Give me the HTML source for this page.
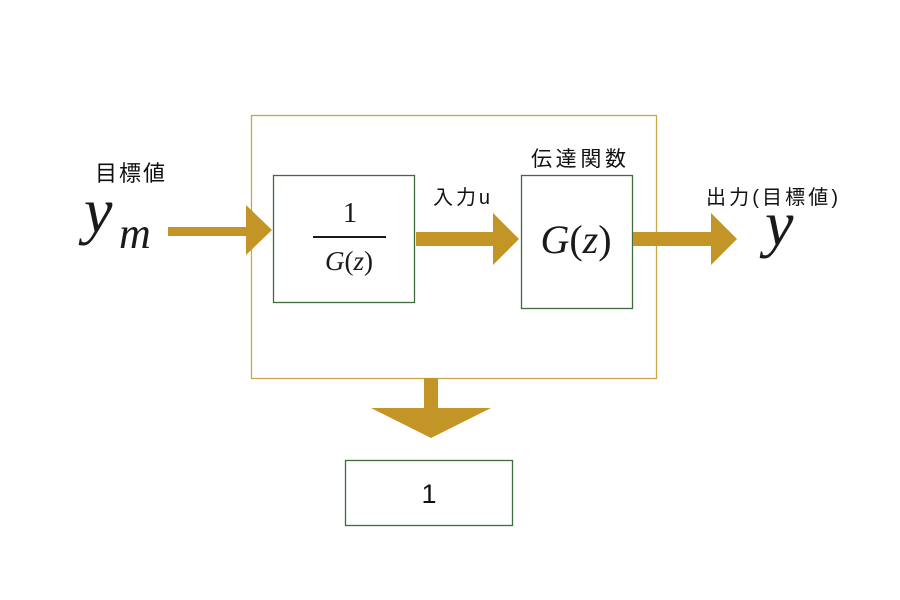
<!DOCTYPE html>
<html><head><meta charset="utf-8"><style>
html,body{margin:0;padding:0;background:#fff;}
svg{display:block;}
.jp{font-family:"Liberation Sans","Noto Sans CJK JP",sans-serif;fill:#111;}
.m{font-family:"Liberation Serif",serif;fill:#1a1a1a;}
</style></head><body>
<svg width="900" height="600" viewBox="0 0 900 600" xmlns="http://www.w3.org/2000/svg">
<rect x="0" y="0" width="900" height="600" fill="#fff"/>
<rect x="251.5" y="115.5" width="405" height="263" fill="none" stroke="#c9a646" stroke-width="1.3"/>
<rect x="273.5" y="175.5" width="141" height="127" fill="none" stroke="#3f6b3f" stroke-width="1.3"/>
<rect x="521.5" y="175.5" width="111" height="133" fill="none" stroke="#3f6b3f" stroke-width="1.3"/>
<rect x="345.5" y="460.5" width="167" height="65" fill="none" stroke="#3f6b3f" stroke-width="1.3"/>
<g fill="#c39426">
<polygon points="168,227 246,227 246,205 272,230 246,255 246,236 168,236"/>
<polygon points="416,232 493,232 493,213 519,239 493,265 493,246 416,246"/>
<polygon points="633,232 711,232 711,213 737,239 711,265 711,246 633,246"/>
<polygon points="424,378 438,378 438,408 491,408 431,438 371,408 424,408"/>
</g>
<text class="jp" x="95" y="181" font-size="22" textLength="70">目標値</text>
<text class="m" x="84" y="232" font-size="64" font-style="italic">y</text>
<text class="m" x="119" y="248" font-size="44" font-style="italic">m</text>
<text class="m" x="350" y="222" font-size="29" text-anchor="middle">1</text>
<rect x="313" y="236" width="73" height="2" fill="#1a1a1a"/>
<text class="m" x="349" y="270" font-size="27" text-anchor="middle"><tspan font-style="italic">G</tspan>(<tspan font-style="italic">z</tspan>)</text>
<text class="jp" x="433" y="204" font-size="20" textLength="57">入力u</text>
<text class="jp" x="531" y="166" font-size="21" textLength="95">伝達関数</text>
<text class="m" x="576" y="253" font-size="40" text-anchor="middle"><tspan font-style="italic">G</tspan>(<tspan font-style="italic">z</tspan>)</text>
<text class="jp" x="706" y="204" font-size="20" textLength="132">出力(目標値)</text>
<text class="m" x="765" y="245" font-size="64" font-style="italic">y</text>
<text class="jp" x="429" y="503" font-size="27" text-anchor="middle">1</text>
</svg>
</body></html>
